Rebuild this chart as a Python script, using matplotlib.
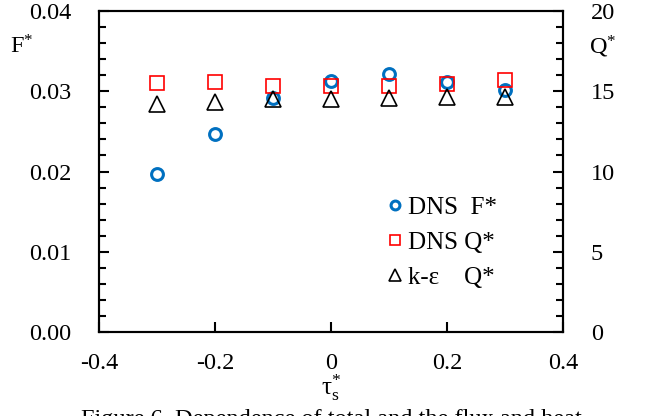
import matplotlib
matplotlib.use("Agg")
import matplotlib.pyplot as plt
from matplotlib.ticker import MultipleLocator

# values
tau = [-0.3, -0.2, -0.1, 0.0, 0.1, 0.2, 0.3]
dns_f = [0.0197, 0.0247, 0.0292, 0.0313, 0.0321, 0.0311, 0.0302]
dns_q = [15.5, 15.55, 15.35, 15.35, 15.3, 15.45, 15.7]
ke_q = [14.2, 14.35, 14.5, 14.5, 14.6, 14.65, 14.65]

x_ticks = [-0.4, -0.2, 0.0, 0.2, 0.4]
x_tick_labels = ["-0.4", "-0.2", "0", "0.2", "0.4"]

plt.rcParams.update({
    'font.family': 'serif',
    'font.serif': ['Liberation Serif', 'DejaVu Serif'],
    'mathtext.fontset': 'custom',
    'mathtext.rm': 'Liberation Serif',
    'mathtext.it': 'Liberation Serif',
    'font.size': 17.5,
})

fig = plt.figure(figsize=(6.5, 4.16), dpi=100)
ax = fig.add_axes([99 / 650, 1 - 332 / 416, (563 - 99) / 650, (332 - 11) / 416])
ax2 = ax.twinx()

blue = '#0070C0'
h1, = ax.plot(tau, dns_f, 'o', ms=8.5, mfc='none', mec=blue, mew=2.2, clip_on=False)
h2, = ax2.plot(tau, dns_q, 's', ms=10, mfc='none', mec='#FF0000', mew=1.2, clip_on=False)
h3, = ax2.plot(tau, ke_q, '^', ms=11, mfc='none', mec='black', mew=1.2, clip_on=False)

ax.set_xlim(-0.4, 0.4)
ax.set_ylim(0, 0.04)
ax2.set_ylim(0, 20)
ax.set_xticks(x_ticks)
ax.set_xticklabels(x_tick_labels)
ax.set_yticks([0, 0.01, 0.02, 0.03, 0.04])
ax.set_yticklabels(["0.00", "0.01", "0.02", "0.03", "0.04"])
ax.yaxis.set_minor_locator(MultipleLocator(0.002))
ax2.set_yticks([0, 5, 10, 15, 20])
ax2.yaxis.set_minor_locator(MultipleLocator(1))

ax.tick_params(axis='both', which='both', direction='in', width=1.5)
ax.tick_params(axis='y', which='major', length=7, pad=20)
ax.tick_params(axis='y', which='minor', length=5)
ax.tick_params(axis='x', which='major', length=7, pad=15, top=False)
ax2.tick_params(axis='y', which='both', direction='in', width=1.5)
ax2.tick_params(axis='y', which='major', length=7, pad=20)
ax2.tick_params(axis='y', which='minor', length=5)

for a in (ax, ax2):
    for s in a.spines.values():
        s.set_linewidth(1.5)

fig.text(22 / 650, 1 - 47 / 416, r'F$^{*}$', ha='center', va='center', fontsize=17.5)
fig.text(603 / 650, 1 - 47 / 416, r'Q$^{*}$', ha='center', va='center', fontsize=17.5)
fig.text(331 / 650, 1 - 388 / 416, r'$\mathrm{\tau}_{\mathrm{s}}^{*}$', ha='center', va='center', fontsize=18)

leg = ax2.legend([h1, h2, h3], ['DNS  F*', 'DNS Q*', 'k-\u03b5    Q*'],
                 loc='lower left', bbox_to_anchor=(0.575, 0.065), frameon=False,
                 handlelength=0.5, handletextpad=0.3, labelspacing=0.5,
                 fontsize=18, markerscale=0.75)

# caption, cut off by the bottom edge in the reference
fig.text(331 / 650, 1 - 425 / 416, 'Figure 6. Dependence of total and the flux and heat',
         ha='center', va='baseline', fontsize=17.5)

fig.savefig('out.png', dpi=100)
